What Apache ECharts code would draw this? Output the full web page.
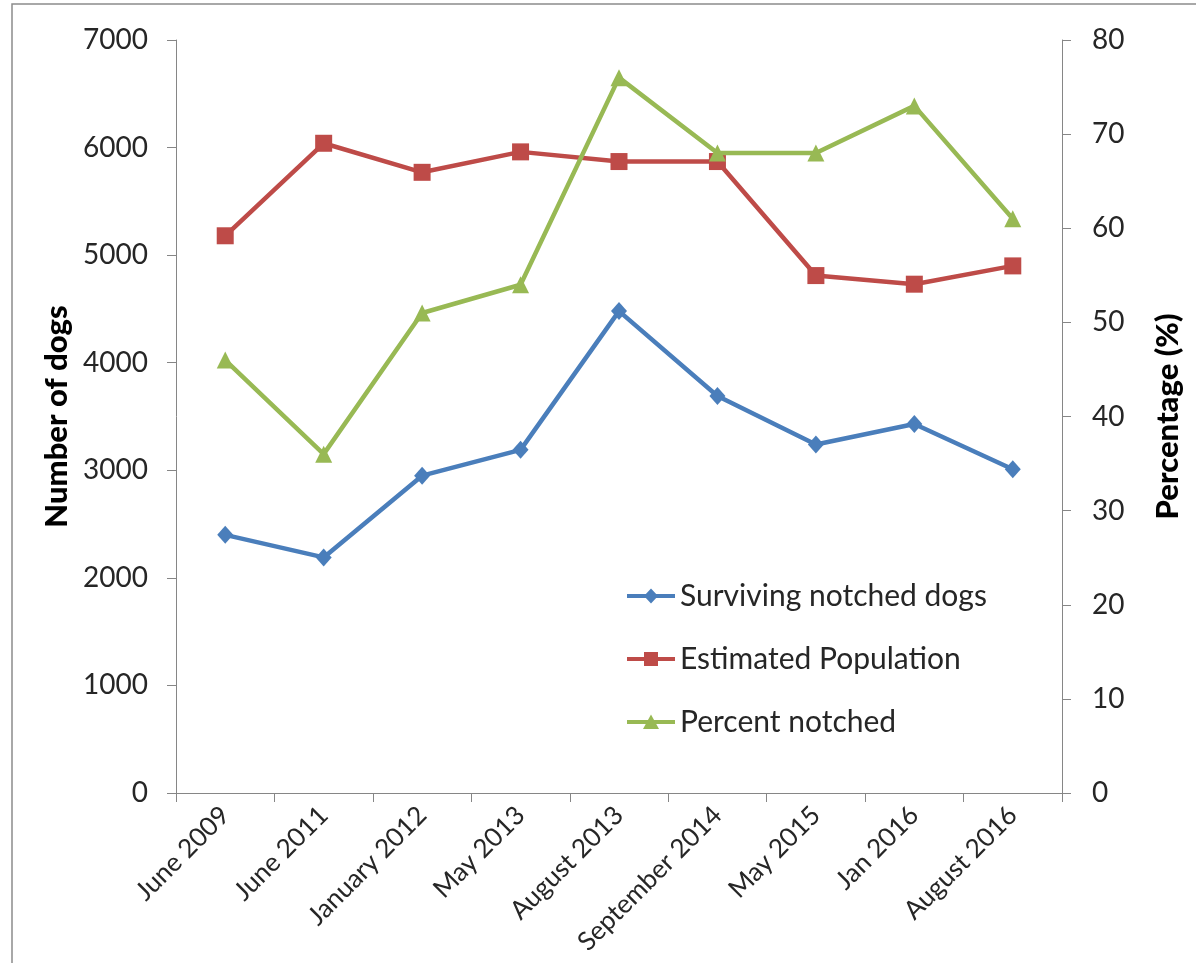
<!DOCTYPE html>
<html>
<head>
<meta charset="utf-8">
<title>Dog population survey</title>
<script src="https://cdn.jsdelivr.net/npm/echarts@6/dist/echarts.min.js"></script>
<style>
  html, body { margin: 0; padding: 0; background: #ffffff; }
  #chart { width: 1196px; height: 963px; }
</style>
</head>
<body>
<div id="chart"></div>
<script>
// Survey dates
const categories = ['June 2009', 'June 2011', 'January 2012', 'May 2013', 'August 2013',
                    'September 2014', 'May 2015', 'Jan 2016', 'August 2016'];
// Left axis: counts of dogs
const survivingNotched = [2400, 2190, 2950, 3190, 4480, 3690, 3240, 3430, 3010];
const estimatedPopulation = [5180, 6040, 5770, 5960, 5870, 5870, 4810, 4730, 4900];
// Right axis: share of the population that is notched (%)
const percentNotched = [46, 36, 51, 54, 76, 68, 68, 73, 61];

const leftTicks = { min: 0, max: 7000, interval: 1000 };
const rightTicks = { min: 0, max: 80, interval: 10 };

const FONT = 'Lato, "Open Sans", sans-serif';
const AXIS_GREY = '#868686';
const TEXT = '#262626';
const BLUE = '#4a7ebb', RED = '#be4b48', GREEN = '#98b954';

// Legend keys: a thick line segment with the series marker in its middle (48 x 17 box)
const LINE = 'M0,6.5 L48,6.5 L48,10.5 L0,10.5 Z ';
const ICON_DIAMOND = 'path://' + LINE + 'M24,1 L31,8.5 L24,16 L17,8.5 Z M0,0 Z M48,17 Z';
const ICON_SQUARE = 'path://' + LINE + 'M17,1.5 L31,1.5 L31,15.5 L17,15.5 Z M0,0 Z M48,17 Z';
const ICON_TRIANGLE = 'path://' + LINE + 'M24,1 L32,15.5 L16,15.5 Z M0,0 Z M48,17 Z';

const chart = echarts.init(document.getElementById('chart'), null, { renderer: 'canvas' });

function valueAxis(ticks, name, position, nameGap, labelMargin) {
  return {
    type: 'value',
    position: position,
    min: ticks.min,
    max: ticks.max,
    interval: ticks.interval,
    name: name,
    nameLocation: 'middle',
    nameRotate: 90,
    nameGap: nameGap,
    nameTextStyle: { fontFamily: FONT, fontSize: 31, fontWeight: 900, color: '#000' },
    axisLine: { show: true, lineStyle: { color: AXIS_GREY, width: 1 } },
    axisTick: { show: true, length: 9, lineStyle: { color: AXIS_GREY, width: 1 } },
    axisLabel: {
      fontFamily: FONT, fontSize: 28, color: TEXT, margin: labelMargin,
      formatter: (v) => String(v)
    },
    splitLine: { show: false }
  };
}

chart.setOption({
  animation: false,
  backgroundColor: '#ffffff',
  textStyle: { fontFamily: FONT },
  graphic: [{
    type: 'rect',
    shape: { x: 12, y: 4, width: 1200, height: 970 },
    style: { fill: 'none', stroke: '#8c8c8c', lineWidth: 1.5 },
    silent: true,
    z: 100
  }],
  grid: { left: 176, right: 134, top: 40, bottom: 170, containLabel: false },
  legend: {
    orient: 'vertical',
    left: 627,
    top: 581,
    padding: 0,
    itemWidth: 48,
    itemHeight: 17,
    itemGap: 33,
    textStyle: { fontFamily: FONT, fontSize: 30, color: TEXT, lineHeight: 30 },
    data: [
      { name: 'Surviving notched dogs', icon: ICON_DIAMOND },
      { name: 'Estimated Population', icon: ICON_SQUARE },
      { name: 'Percent notched', icon: ICON_TRIANGLE }
    ]
  },
  xAxis: {
    type: 'category',
    data: categories,
    boundaryGap: true,
    axisLine: { show: true, lineStyle: { color: AXIS_GREY, width: 1 } },
    axisTick: { show: true, length: 9, alignWithLabel: false, lineStyle: { color: AXIS_GREY, width: 1 } },
    axisLabel: { rotate: 45, fontFamily: FONT, fontSize: 26, color: TEXT, margin: 18, interval: 0 },
    splitLine: { show: false }
  },
  yAxis: [
    valueAxis(leftTicks, 'Number of dogs', 'left', 100, 28),
    valueAxis(rightTicks, 'Percentage (%)', 'right', 90, 30)
  ],
  series: [
    {
      name: 'Surviving notched dogs',
      type: 'line',
      yAxisIndex: 0,
      data: survivingNotched,
      symbol: 'diamond',
      symbolSize: [16, 18],
      color: BLUE,
      lineStyle: { width: 4.5, color: BLUE },
      itemStyle: { color: BLUE },
      z: 3
    },
    {
      name: 'Estimated Population',
      type: 'line',
      yAxisIndex: 0,
      data: estimatedPopulation,
      symbol: 'rect',
      symbolSize: 17,
      color: RED,
      lineStyle: { width: 4.5, color: RED },
      itemStyle: { color: RED },
      z: 4
    },
    {
      name: 'Percent notched',
      type: 'line',
      yAxisIndex: 1,
      data: percentNotched,
      symbol: 'triangle',
      symbolSize: 17,
      color: GREEN,
      lineStyle: { width: 4.5, color: GREEN },
      itemStyle: { color: GREEN },
      z: 5
    }
  ]
});
</script>
</body>
</html>
